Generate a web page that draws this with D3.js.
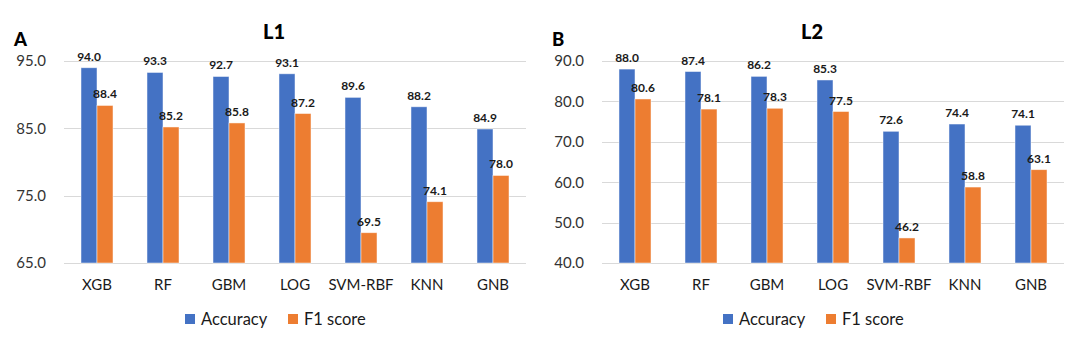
<!DOCTYPE html>
<html>
<head>
<meta charset="utf-8">
<script src="https://cdn.jsdelivr.net/npm/d3@7"></script>
<style>
  html, body { margin: 0; padding: 0; background: #fff; }
  text { font-family: Lato, "Open Sans", sans-serif; }
</style>
</head>
<body>
<svg id="chart" width="1080" height="346"></svg>
<script>
(function(d3) {

    "use strict";

    // categories and series shared by both panels
    var models = ["XGB", "RF", "GBM", "LOG", "SVM-RBF", "KNN", "GNB"];
    var seriesNames = ["Accuracy", "F1 score"];
    var seriesColors = ["#4472C4", "#ED7D31"];

    // panel A (L1)
    var l1Accuracy = [94.0, 93.3, 92.7, 93.1, 89.6, 88.2, 84.9];
    var l1F1 = [88.4, 85.2, 85.8, 87.2, 69.5, 74.1, 78.0];
    var l1Ticks = [65, 75, 85, 95];

    // panel B (L2)
    var l2Accuracy = [88.0, 87.4, 86.2, 85.3, 72.6, 74.4, 74.1];
    var l2F1 = [80.6, 78.1, 78.3, 77.5, 46.2, 58.8, 63.1];
    var l2Ticks = [40, 50, 60, 70, 80, 90];

    var svg = d3.select("#chart");

    /**
     * Draw one grouped bar panel
     * @param {Object} p panel settings
     */
    function drawPanel(p) {
        var g = svg.append("g").attr("transform", "translate(" + p.dx + ",0)");
        var left = 64, right = 526, top = 61, bottom = 263;

        var x0 = d3.scaleBand()
            .domain(models)
            .range([left, right])
            .paddingInner(0.515)
            .paddingOuter(0.2575);

        var x1 = d3.scaleBand()
            .domain(seriesNames)
            .range([0, x0.bandwidth()]);

        var y = d3.scaleLinear()
            .domain([p.ticks[0], p.ticks[p.ticks.length - 1]])
            .range([bottom, top]);

        // gridlines
        g.append("g")
            .selectAll("line")
            .data(p.ticks)
            .enter()
            .append("line")
            .attr("x1", left)
            .attr("x2", right)
            .attr("y1", function(d) { return Math.round(y(d)) + 0.5; })
            .attr("y2", function(d) { return Math.round(y(d)) + 0.5; })
            .attr("stroke", "#d9d9d9")
            .attr("stroke-width", 1);

        // y axis labels
        var yAxis = d3.axisLeft(y)
            .tickValues(p.ticks)
            .tickFormat(d3.format(".1f"))
            .tickSize(0)
            .tickPadding(18);

        g.append("g")
            .attr("transform", "translate(" + left + ",0)")
            .call(yAxis)
            .call(function(a) { a.select(".domain").remove(); })
            .selectAll("text")
            .attr("font-family", "Lato, sans-serif")
            .attr("font-size", "15px")
            .attr("fill", "#333333");

        // x axis labels
        var xAxis = d3.axisBottom(x0).tickSize(0).tickPadding(0);
        g.append("g")
            .attr("transform", "translate(0," + 285 + ")")
            .call(xAxis)
            .call(function(a) { a.select(".domain").remove(); })
            .selectAll("text")
            .attr("dy", "0.35em")
            .attr("y", 0)
            .attr("font-family", "Lato, sans-serif")
            .attr("font-size", "15px")
            .attr("fill", "#1a1a1a");

        // bars
        var rows = models.map(function(m, i) {
            return { model: m, values: [p.acc[i], p.f1[i]] };
        });

        var group = g.append("g")
            .selectAll("g")
            .data(rows)
            .enter()
            .append("g")
            .attr("transform", function(d) { return "translate(" + x0(d.model) + ",0)"; });

        var cell = group.selectAll("g")
            .data(function(d) {
                return d.values.map(function(v, k) { return { key: seriesNames[k], k: k, value: v }; });
            })
            .enter()
            .append("g");

        cell.append("rect")
            .attr("x", function(d) { return x1(d.key); })
            .attr("y", function(d) { return y(d.value); })
            .attr("width", x1.bandwidth())
            .attr("height", function(d) { return y(p.ticks[0]) - y(d.value); })
            .attr("fill", function(d) { return seriesColors[d.k]; })
            .attr("stroke", "#ffffff")
            .attr("stroke-opacity", 0.6)
            .attr("stroke-width", 0.8);

        cell.append("text")
            .attr("x", function(d) { return x1(d.key) + x1.bandwidth() / 2; })
            .attr("y", function(d) { return y(d.value) - 7; })
            .attr("text-anchor", "middle")
            .attr("font-size", "12px")
            .attr("font-weight", "bold")
            .attr("fill", "#1a1a1a")
            .text(function(d) { return d3.format(".1f")(d.value); });

        // title and panel letter
        g.append("text")
            .attr("x", 274)
            .attr("y", 39)
            .attr("text-anchor", "middle")
            .attr("font-size", "20px")
            .attr("font-weight", "900")
            .attr("fill", "#000")
            .text(p.title);

        g.append("text")
            .attr("x", 14)
            .attr("y", 45.5)
            .attr("font-size", "18.5px")
            .attr("font-weight", "900")
            .attr("fill", "#000")
            .text(p.letter);

        // legend
        var legendX = [185, 288];
        var legend = g.append("g")
            .selectAll("g")
            .data(seriesNames)
            .enter()
            .append("g")
            .attr("transform", function(d, i) { return "translate(" + legendX[i] + ",314)"; });

        legend.append("rect")
            .attr("width", 10)
            .attr("height", 10)
            .attr("fill", function(d, i) { return seriesColors[i]; });

        legend.append("text")
            .attr("x", 16)
            .attr("y", 5)
            .attr("dy", "0.35em")
            .attr("font-size", "16.5px")
            .attr("fill", "#1a1a1a")
            .text(function(d) { return d; });
    }

    drawPanel({ dx: 0, title: "L1", letter: "A", acc: l1Accuracy, f1: l1F1, ticks: l1Ticks });
    drawPanel({ dx: 538, title: "L2", letter: "B", acc: l2Accuracy, f1: l2F1, ticks: l2Ticks });

})(d3);
</script>
</body>
</html>
